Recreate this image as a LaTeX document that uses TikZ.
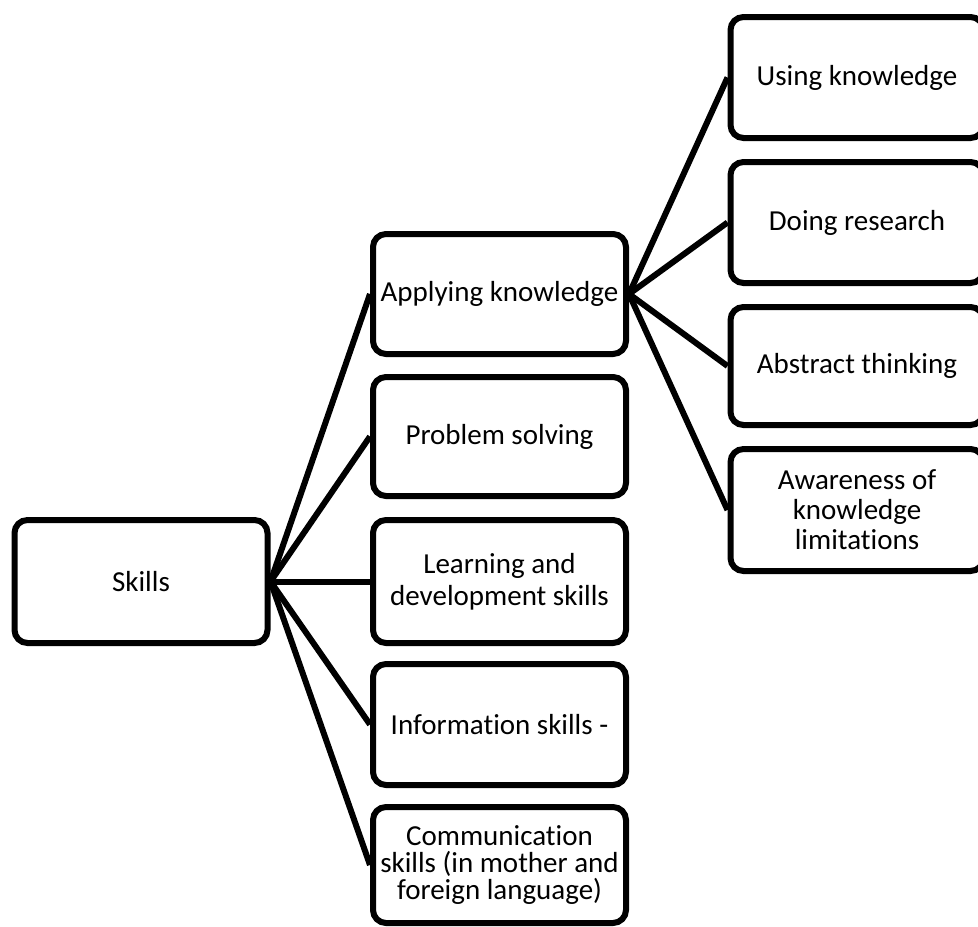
\documentclass[tikz,border=0pt]{standalone}
\usepackage{fontspec}
\setmainfont{Carlito}[Ligatures=NoCommon]
\begin{document}
\begin{tikzpicture}[x=1pt,y=1pt,
  box/.style={draw=black,line width=6pt,rounded corners=13pt,fill=white,
    minimum width=253pt,inner sep=0pt,align=center,
    font=\fontsize{29}{32}\selectfont},
  link/.style={draw=black,line width=6pt}]
\useasboundingbox (0,0) rectangle (978,-927);
\clip (0,0) rectangle (978,-927);
% level 1
\node[box,minimum height=123pt] (skills) at (141,-581.5) {Skills};
% level 2
\node[box,minimum height=120pt] (apply) at (499.5,-294) {Applying knowledge};
\node[box,minimum height=119pt] (prob) at (499.5,-436.5) {Problem solving};
\node[box,minimum height=123pt] (learn) at (499.5,-581.5) {Learning and\\development skills};
\node[box,minimum height=121pt] (info) at (499.5,-724.5) {Information skills -};
\node[box,minimum height=116pt,font=\fontsize{29}{27}\selectfont] (comm) at (499.5,-865) {Communication\\skills (in mother and\\foreign language)};
% level 3
\node[box,minimum height=121pt] (using) at (857,-77.5) {Using knowledge};
\node[box,minimum height=121pt] (doing) at (857,-222.5) {Doing research};
\node[box,minimum height=118pt] (abstr) at (857,-366) {Abstract thinking};
\node[box,minimum height=122pt,font=\fontsize{29}{30}\selectfont] (aware) at (857,-510) {Awareness of\\knowledge\\limitations};
% connectors
\foreach \t in {apply,prob,learn,info,comm}
  \draw[link] (skills.east) -- (\t.west);
\foreach \t in {using,doing,abstr,aware}
  \draw[link] (apply.east) -- (\t.west);
\end{tikzpicture}
\end{document}
